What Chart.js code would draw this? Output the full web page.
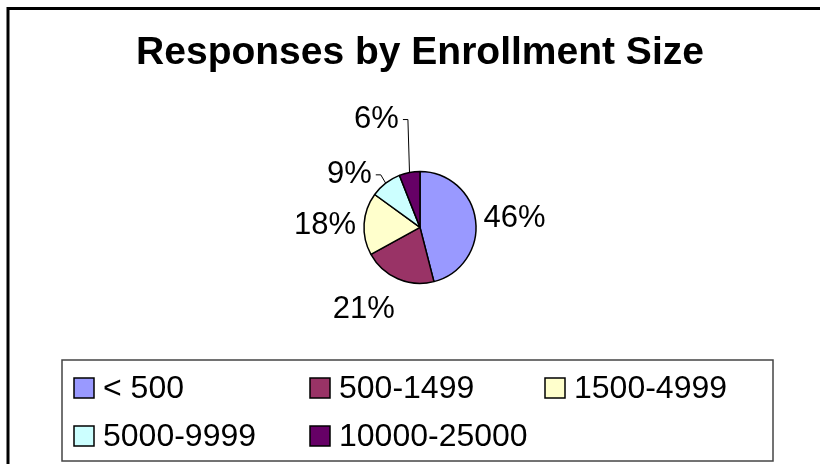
<!DOCTYPE html>
<html>
<head>
<meta charset="utf-8">
<script src="https://cdn.jsdelivr.net/npm/chart.js@4/dist/chart.umd.min.js"></script>
<style>
  html, body { margin: 0; padding: 0; background: #ffffff; }
  #wrap { width: 820px; height: 464px; position: relative; }
</style>
</head>
<body>
<div id="wrap"><canvas id="c" width="820" height="464"></canvas></div>
<script>
// ---- data ----
const titleText = 'Responses by Enrollment Size';
const categories = ['< 500', '500-1499', '1500-4999', '5000-9999', '10000-25000'];
const shares = [46, 21, 18, 9, 6];           // percent of responses
const sliceColors = ['#9999FF', '#993366', '#FFFFCC', '#CCFFFF', '#660066'];

const FONT = '"Liberation Sans", Arial, Helvetica, sans-serif';

// Outer frame (Excel chart border)
const framePlugin = {
  id: 'frame',
  beforeDraw(chart) {
    const ctx = chart.ctx;
    ctx.save();
    ctx.fillStyle = '#ffffff';
    ctx.fillRect(0, 0, chart.width, chart.height);
    ctx.strokeStyle = '#000000';
    ctx.lineWidth = 3;
    ctx.strokeRect(8, 8.5, chart.width + 40, chart.height + 40);
    ctx.restore();
  }
};

// Percentage labels outside the pie, with leader lines for moved labels
const pctLabelPlugin = {
  id: 'pctLabels',
  afterDatasetsDraw(chart, args, opts) {
    const ctx = chart.ctx;
    const meta = chart.getDatasetMeta(0);
    const data = chart.data.datasets[0].data;
    ctx.save();
    ctx.font = opts.size + 'px ' + FONT;
    ctx.fillStyle = '#000000';
    ctx.textAlign = 'center';
    ctx.textBaseline = 'middle';
    const clamp = v => Math.max(-1, Math.min(1, v));
    meta.data.forEach((arc, i) => {
      const p = arc.getProps(['x', 'y', 'startAngle', 'endAngle', 'outerRadius'], true);
      const mid = (p.startAngle + p.endAngle) / 2;
      const cs = Math.cos(mid), sn = Math.sin(mid);
      const txt = data[i] + '%';
      const w = ctx.measureText(txt).width;
      const h = opts.boxHeight;
      const d = p.outerRadius + opts.gap;
      let cx = p.x + cs * d + (w / 2) * clamp(2.5 * cs);
      let cy = p.y + sn * d + (h / 2) * clamp(2.5 * sn) + opts.dy;
      const nudge = opts.nudges[i];
      if (nudge) {
        cx += nudge[0];
        cy += nudge[1];
        const px = p.x + cs * p.outerRadius, py = p.y + sn * p.outerRadius;
        const right = cx + w / 2;
        ctx.beginPath();
        ctx.strokeStyle = '#000000';
        ctx.lineWidth = 1;
        ctx.moveTo(px, py);
        ctx.lineTo(right + 9, cy);
        ctx.lineTo(right + 4, cy);
        ctx.stroke();
      }
      ctx.fillText(txt, cx, cy);
    });
    ctx.restore();
  }
};

// Boxed legend at the bottom in a grid
const boxLegendPlugin = {
  id: 'boxLegend',
  afterDraw(chart, args, opts) {
    const ctx = chart.ctx;
    const ds = chart.data.datasets[0];
    ctx.save();
    ctx.strokeStyle = '#444444';
    ctx.lineWidth = 1.5;
    ctx.strokeRect(opts.box[0], opts.box[1], opts.box[2], opts.box[3]);
    ctx.font = opts.size + 'px ' + FONT;
    ctx.textAlign = 'left';
    ctx.textBaseline = 'middle';
    chart.data.labels.forEach((lab, i) => {
      const col = i % opts.cols.length;
      const row = Math.floor(i / opts.cols.length);
      const x = opts.cols[col];
      const yc = opts.rows[row];
      const s = opts.swatch;
      ctx.fillStyle = ds.backgroundColor[i];
      ctx.fillRect(x, yc - s / 2, s, s);
      ctx.strokeStyle = '#000000';
      ctx.lineWidth = 1.5;
      ctx.strokeRect(x, yc - s / 2, s, s);
      ctx.fillStyle = '#000000';
      ctx.fillText(lab, x + s + 9, yc + 1);
    });
    ctx.restore();
  }
};

new Chart(document.getElementById('c'), {
  type: 'pie',
  data: {
    labels: categories,
    datasets: [{
      data: shares,
      backgroundColor: sliceColors,
      borderColor: '#000000',
      borderWidth: 1.5,
      radius: 56
    }]
  },
  options: {
    responsive: false,
    animation: false,
    layout: { padding: { left: 20, right: 0, top: 0, bottom: 96 } },
    plugins: {
      legend: { display: false },
      tooltip: { enabled: false },
      title: {
        display: true,
        text: titleText,
        color: '#000000',
        font: { family: FONT, size: 39, weight: 'bold', lineHeight: 1.2 },
        padding: { top: 30, bottom: 10 }
      },
      pctLabels: { size: 31, gap: 8, boxHeight: 36, dy: 5, nudges: [null, null, null, [-9, 11], [-21, -32]] },
      boxLegend: { box: [62, 360, 711, 101], cols: [74, 310, 545], rows: [388, 436], swatch: 20, size: 32 }
    }
  },
  plugins: [framePlugin, pctLabelPlugin, boxLegendPlugin]
});
</script>
</body>
</html>
